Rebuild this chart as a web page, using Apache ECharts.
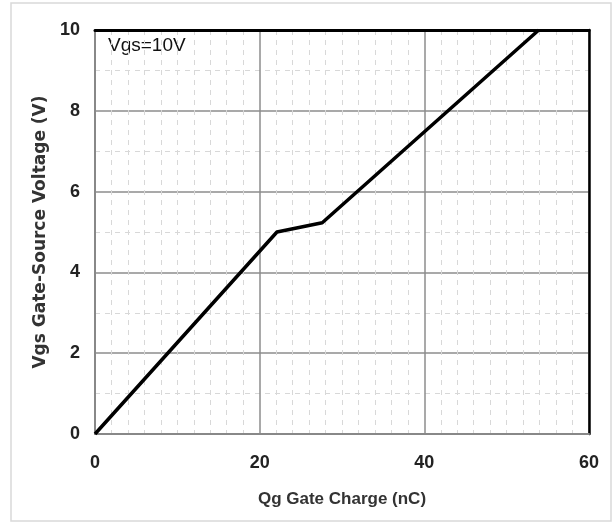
<!DOCTYPE html>
<html><head><meta charset="utf-8">
<script src="https://cdn.jsdelivr.net/npm/echarts@6/dist/echarts.min.js"></script>
<style>html,body{margin:0;padding:0;background:#fff}#c{width:614px;height:524px}</style>
</head><body><div id="c"></div>
<script>
const qg = [0, 22.1, 27.6, 53.9];
const vgs = [0, 5.0, 5.23, 10];
const xTicks = [0, 20, 40, 60];
const yTicks = [0, 2, 4, 6, 8, 10];
const xTitle = 'Qg Gate Charge (nC)';
const yTitle = 'Vgs Gate-Source Voltage (V)';
const note = 'Vgs=10V';

const chart = echarts.init(document.getElementById('c'));
const font = 'Liberation Sans, Arial, sans-serif';
chart.setOption({
  animation: false,
  grid: {left: 95, right: 25, top: 30, bottom: 90},
  graphic: [
    {type: 'rect', shape: {x: 11, y: 3, width: 600, height: 518}, style: {fill: 'none', stroke: '#d9d9d9', lineWidth: 1.5}, z: -1},
    {type: 'text', left: 108, top: 36, style: {text: note, font: '19px ' + font, fill: '#111'}}
  ],
  xAxis: [{
    type: 'value', min: xTicks[0], max: xTicks[xTicks.length-1], interval: 20,
    name: xTitle, nameLocation: 'middle', nameGap: 57,
    nameTextStyle: {fontFamily: font, fontWeight: 'bold', fontSize: 17, color: '#333'},
    axisLine: {show: true, lineStyle: {color: '#888', width: 2}},
    axisTick: {show: false},
    axisLabel: {fontFamily: font, fontWeight: 'bold', fontSize: 18, color: '#222', margin: 20},
    splitLine: {show: true, lineStyle: {color: '#8c8c8c', width: 1.5}},
    minorTick: {show: false, splitNumber: 10},
    minorSplitLine: {show: true, lineStyle: {color: '#d8d8d8', type: [5, 5], width: 1}}
  }, {
    type: 'value', position: 'top', min: 0, max: 60,
    axisLine: {show: true, onZero: false, lineStyle: {color: '#000', width: 3}},
    axisTick: {show: false}, axisLabel: {show: false}, splitLine: {show: false}
  }],
  yAxis: [{
    type: 'value', min: yTicks[0], max: yTicks[yTicks.length-1], interval: 2,
    name: yTitle, nameLocation: 'middle', nameGap: 45,
    nameTextStyle: {fontFamily: 'DejaVu Sans, sans-serif', fontWeight: 'bold', fontSize: 17, color: '#333'},
    axisLine: {show: true, lineStyle: {color: '#888', width: 2}},
    axisTick: {show: false},
    axisLabel: {fontFamily: font, fontWeight: 'bold', fontSize: 18, color: '#222', margin: 15},
    splitLine: {show: true, lineStyle: {color: '#8c8c8c', width: 1.5}},
    minorTick: {show: false, splitNumber: 2},
    minorSplitLine: {show: true, lineStyle: {color: '#d8d8d8', type: [5, 5], width: 1}}
  }, {
    type: 'value', position: 'right', min: 0, max: 10,
    axisLine: {show: true, onZero: false, lineStyle: {color: '#000', width: 2.5}},
    axisTick: {show: false}, axisLabel: {show: false}, splitLine: {show: false}
  }],
  series: [{
    type: 'line', data: qg.map((x, i) => [x, vgs[i]]),
    showSymbol: false, lineStyle: {color: '#000', width: 3.5}, z: 5
  }]
});
</script></body></html>
